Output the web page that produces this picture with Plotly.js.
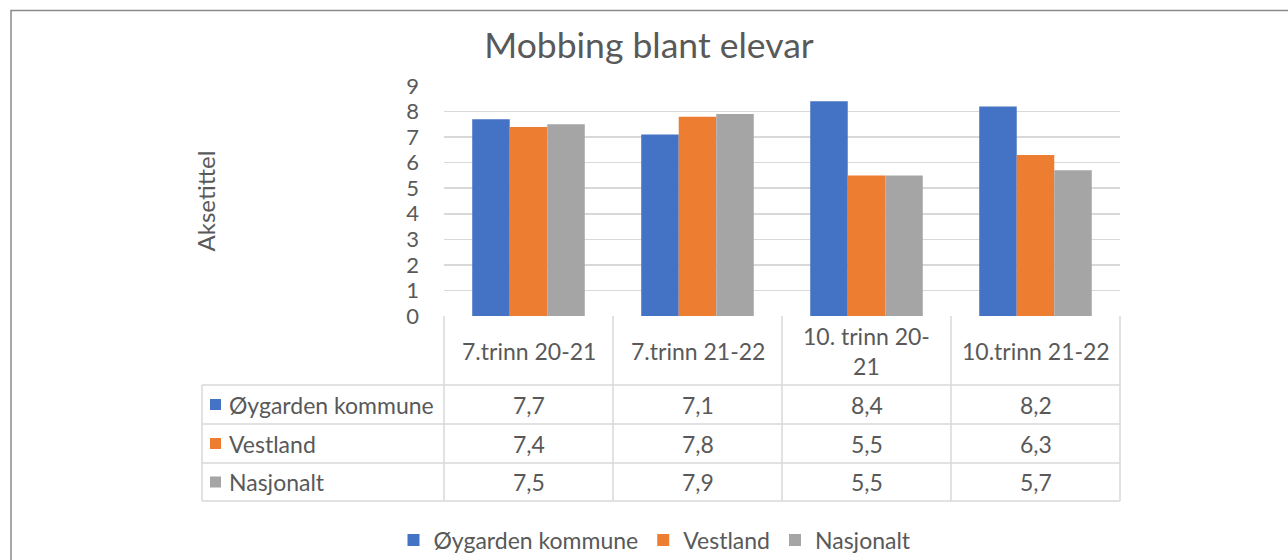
<!DOCTYPE html>
<html>
<head>
<meta charset="utf-8">
<script src="https://cdn.plot.ly/plotly-3.0.1.min.js"></script>
<style>html,body{margin:0;padding:0;background:#fff;width:1288px;height:560px;overflow:hidden;}#chart{width:1288px;height:560px;overflow:hidden;}</style>
</head>
<body>
<div id="chart"></div>
<script>
// ---- data ----
var categories = ['7.trinn 20-21', '7.trinn 21-22', '10. trinn 20-21', '10.trinn 21-22'];
var headerLabels = ['7.trinn 20-21', '7.trinn 21-22', '10. trinn 20-<br>21', '10.trinn 21-22'];
var seriesNames = ['Øygarden kommune', 'Vestland', 'Nasjonalt'];
var oygarden = [7.7, 7.1, 8.4, 8.2];
var vestland = [7.4, 7.8, 5.5, 6.3];
var nasjonalt = [7.5, 7.9, 5.5, 5.7];
var yTicks = [0, 1, 2, 3, 4, 5, 6, 7, 8, 9];
var chartTitle = 'Mobbing blant elevar';
var yTitle = 'Aksetittel';

// ---- style ----
var colors = ['#4472C4', '#ED7D31', '#A5A5A5'];
var textColor = '#595959';
var gridColor = '#D9D9D9';
var font = 'Lato, "Open Sans", sans-serif';
var W = 1288, H = 560;
var PL = 444, PR = 1120, PT = 86, PB = 316;
function px(x) { return (x - PL) / (PR - PL); }
function py(y) { return (PB - y) / (PB - PT); }

var allValues = [oygarden, vestland, nasjonalt];
var traces = allValues.map(function (vals, i) {
  return {
    type: 'bar', name: seriesNames[i], x: categories, y: vals,
    marker: {color: colors[i]}, hoverinfo: 'skip'
  };
});

var shapes = [], annotations = [];
// chart border (top and left)
shapes.push({type: 'path', xref: 'paper', yref: 'paper',
  path: 'M' + px(11) + ',' + py(562) + ' L' + px(11) + ',' + py(10.5) + ' L' + px(1290) + ',' + py(10.5),
  line: {color: '#8a8a8a', width: 1.5}});

// data table geometry
var tableLeft = 202, rowTops = [385, 424, 463], tableBottom = 501, headerTop = PB;
var nCat = categories.length;
var cellFont = {family: font, size: 23, color: textColor};
function colEdge(k) { return PL + k * (PR - PL) / nCat; }
function lineShape(x0, y0, x1, y1) {
  return {type: 'line', xref: 'paper', yref: 'paper', x0: px(x0), y0: py(y0), x1: px(x1), y1: py(y1),
    line: {color: gridColor, width: 1.5}};
}
for (var k = 0; k <= nCat; k++) shapes.push(lineShape(colEdge(k), headerTop, colEdge(k), tableBottom));
shapes.push(lineShape(tableLeft, rowTops[0], tableLeft, tableBottom));
rowTops.concat([tableBottom]).forEach(function (y) { shapes.push(lineShape(tableLeft, y, PR, y)); });

headerLabels.forEach(function (lab, k) {
  annotations.push({xref: 'paper', yref: 'paper', x: px((colEdge(k) + colEdge(k + 1)) / 2), y: py((headerTop + rowTops[0]) / 2),
    text: lab, showarrow: false, xanchor: 'center', yanchor: 'middle', font: cellFont});
});
allValues.forEach(function (vals, i) {
  var top = rowTops[i], bot = (i + 1 < rowTops.length) ? rowTops[i + 1] : tableBottom;
  var cy = (top + bot) / 2;
  shapes.push({type: 'rect', xref: 'paper', yref: 'paper', x0: px(210), x1: px(221), y0: py(cy - 5.5), y1: py(cy + 5.5),
    fillcolor: colors[i], line: {width: 0}});
  annotations.push({xref: 'paper', yref: 'paper', x: px(227), y: py(cy), text: seriesNames[i], showarrow: false,
    xanchor: 'left', yanchor: 'middle', font: cellFont});
  vals.forEach(function (v, k) {
    annotations.push({xref: 'paper', yref: 'paper', x: px((colEdge(k) + colEdge(k + 1)) / 2), y: py(cy),
      text: v.toFixed(1).replace('.', ','), showarrow: false, xanchor: 'center', yanchor: 'middle', font: cellFont});
  });
});

var layout = {
  width: W, height: H,
  margin: {l: PL, r: W - PR, t: PT, b: H - PB, pad: 0, autoexpand: false},
  paper_bgcolor: '#fff', plot_bgcolor: '#fff',
  font: {family: font, color: textColor},
  title: {text: chartTitle, xref: 'container', x: 649 / W, xanchor: 'center', yref: 'container', y: 1 - 46 / H, yanchor: 'middle',
    font: {family: font, size: 35.5, color: textColor}},
  barmode: 'group', bargap: 0.334, bargroupgap: 0,
  xaxis: {type: 'category', categoryarray: categories, showticklabels: false, showgrid: false,
    zeroline: false, showline: false, ticks: '', fixedrange: true},
  yaxis: {range: [0, 9], tickvals: yTicks, showgrid: true, gridcolor: gridColor, gridwidth: 1.5,
    zeroline: false, showline: false, ticks: '', ticklabelstandoff: 24,
    tickfont: {family: font, size: 22, color: textColor},
    title: {text: yTitle, standoff: 183, font: {family: font, size: 24, color: textColor}},
    automargin: false, fixedrange: true},
  showlegend: true,
  legend: {orientation: 'h', x: px(655), xanchor: 'center', y: py(540), yanchor: 'middle',
    font: {family: font, size: 23, color: textColor}, traceorder: 'normal', itemclick: false},
  shapes: shapes, annotations: annotations
};

Plotly.newPlot('chart', traces, layout, {displayModeBar: false, staticPlot: true});
</script>
</body>
</html>
